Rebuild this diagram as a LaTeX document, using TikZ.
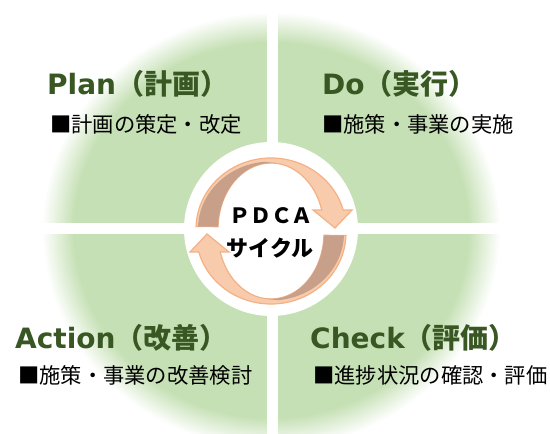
\documentclass[tikz,border=0pt]{standalone}
\usepackage{fontspec}
\newfontfamily\jpfont{Noto Sans CJK JP}
\newfontfamily\latfont{DejaVu Sans}
\definecolor{hijau}{HTML}{C5E0B4}
\definecolor{hijautua}{HTML}{385723}
\definecolor{persik}{HTML}{F8CBAD}
\definecolor{oranye}{HTML}{F4B183}
\definecolor{coklat}{HTML}{C8A08A}
\pgfdeclareradialshading{cakram}{\pgfpoint{0bp}{0bp}}{color(0bp)=(hijau); color(21.5bp)=(hijau); color(25bp)=(white); color(50bp)=(white)}

\begin{document}
\begin{tikzpicture}[x=1pt, y=1pt,
    judul/.style={anchor=west, inner sep=0pt, text=hijautua, font=\fontsize{28}{32}\selectfont\bfseries},
    isi/.style={anchor=west, inner sep=0pt, font=\jpfont\fontsize{21.3}{25}\selectfont},
    pusat/.style={inner sep=0pt, font=\jpfont\bfseries\fontsize{21}{24}\selectfont}]

    \useasboundingbox (0,0) rectangle (550,434);
    \clip (0,0) rectangle (550,434);

    % Lingkaran hijau (tepi lembut)
    \shade[shading=cakram] (271,204) ellipse [x radius=229, y radius=218];

    % Garis putih pemisah dan lingkaran tengah
    \fill[white] (266.5,0) rectangle (278,434);
    \fill[white] (0,199.7) rectangle (550,211);
    \fill[white] (271,205) circle (87);

    % Panah siklus (atas dan bawah)
    \foreach \sudut in {0,180} {
      \begin{scope}[shift={(271,203)}, rotate=\sudut]
        \filldraw[fill=persik, draw=oranye, line width=1.2pt]
          (-74.95,4.48) arc[start angle=178, end angle=15.5, x radius=75, y radius=71]
          -- (81,21) -- (64,3) -- (42,21) -- (50.76,20.97)
          arc[start angle=16.7, end angle=178, x radius=53, y radius=66] -- cycle;
        \fill[coklat]
          (-72.95,4.37) arc[start angle=178, end angle=95, x radius=73, y radius=67.5]
          -- (4.62,67.75) arc[start angle=85, end angle=178, x radius=53, y radius=66] -- cycle;
      \end{scope}
    }

    % Judul tiap kuadran
    \node[judul] (plan)   at (47,350) {{\latfont Plan}{\jpfont（計画）}};
    \node[judul] (do)     at (322,350) {{\latfont Do}{\jpfont（実行）}};
    \node[judul] (action) at (15,96)  {{\latfont Action}{\jpfont（改善）}};
    \node[judul] (check)  at (310,96) {{\latfont Check}{\jpfont（評価）}};

    % Isi tiap kuadran
    \node[isi] (planisi)   at (50,310)  {■計画の策定・改定};
    \node[isi] (doisi)     at (322,310) {■施策・事業の実施};
    \node[isi] (actionisi) at (18,59)   {■施策・事業の改善検討};
    \node[isi] (checkisi)  at (313,59)  {■進捗状況の確認・評価};

    % Teks tengah
    \node[pusat] (pdca)   at (271,218) {ＰＤＣＡ};
    \node[pusat, font=\jpfont\bfseries\fontsize{22}{24}\selectfont] (siklus) at (270,186) {サイクル};

\end{tikzpicture}
\end{document}
